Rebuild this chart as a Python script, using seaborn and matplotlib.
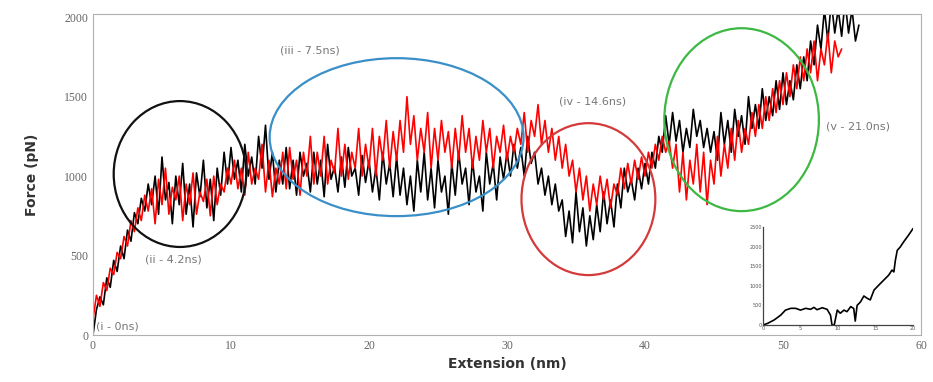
import numpy as np
import pandas as pd
import matplotlib
matplotlib.use("Agg")
import matplotlib.pyplot as plt
from matplotlib.patches import Ellipse
from matplotlib.ticker import MultipleLocator
import seaborn as sns

# ---------------- data ----------------
step = 0.25
black_force = [
    0, 160, 240, 190, 360, 300, 470, 400,
    560, 480, 660, 590, 770, 700, 860, 780,
    950, 820, 1000, 760, 1120, 850, 960, 700,
    1000, 820, 1080, 760, 950, 680, 1020, 870,
    1100, 800, 980, 720, 1050, 880, 1150, 950,
    1180, 980, 1100, 900, 1200, 1000, 1120, 950,
    1250, 1050, 1320, 980, 1150, 900, 1100, 950,
    1180, 920, 1100, 880, 1150, 1000, 1080, 900,
    1150, 950, 1100, 870, 1200, 980, 1060, 900,
    1120, 930, 1180, 1000, 1050, 880, 1130, 960,
    1100, 900, 1050, 850, 1150, 950, 1080, 870,
    1120, 880, 1050, 820, 1000, 780, 1100, 900,
    1150, 850, 1050, 800, 1100, 900, 1000, 760,
    1080, 880, 1150, 950, 1050, 820, 1100, 900,
    1000, 780, 1150, 950, 1080, 850, 1120, 980,
    1150, 1000, 1200, 1050, 1180, 1000, 1250, 1080,
    1150, 950, 1050, 880, 1000, 820, 950, 780,
    850, 620, 780, 580, 900, 650, 800, 560,
    750, 600, 820, 650, 900, 700, 850, 680,
    950, 800, 1050, 900, 980, 850, 1050, 920,
    1080, 950, 1150, 1050, 1250, 1150, 1380, 1200,
    1400, 1220, 1350, 1150, 1300, 1180, 1420, 1250,
    1350, 1180, 1300, 1150, 1280, 1100, 1400, 1200,
    1350, 1150, 1420, 1250, 1380, 1200, 1500, 1300,
    1450, 1300, 1550, 1350, 1500, 1380, 1600, 1420,
    1650, 1450, 1600, 1480, 1700, 1550, 1750, 1600,
    1850, 1700, 1950, 1800, 2050, 1850, 2100, 1900,
    2050, 1880, 2100, 1900, 2050, 1850, 1950,
]
red_force = [
    100, 250, 180, 330, 280, 420, 380, 520,
    480, 620, 560, 720, 650, 800, 720, 880,
    780, 920, 700, 980, 820, 1050, 760, 930,
    850, 1000, 720, 950, 820, 1020, 760, 900,
    840, 980, 750, 1000, 820, 950, 900, 1050,
    950, 1100, 920, 1050, 880, 1150, 950, 1050,
    980, 1200, 900, 1100, 870, 1050, 950, 1150,
    920, 1180, 980, 1100, 880, 1150, 1000, 1250,
    950, 1150, 1000, 1250, 950, 1100, 1020, 1300,
    1000, 1200, 980, 1150, 1050, 1300, 1000, 1200,
    1050, 1300, 1000, 1250, 1100, 1350, 1050, 1280,
    1100, 1350, 1150, 1500, 1200, 1380, 1100, 1300,
    1150, 1400, 1050, 1300, 1100, 1350, 1150, 1280,
    1050, 1300, 1100, 1380, 1150, 1300, 1050, 1250,
    1100, 1350, 1150, 1300, 1050, 1250, 1150, 1320,
    1100, 1250, 1150, 1300, 1200, 1400, 1150, 1350,
    1250, 1450, 1200, 1350, 1150, 1300, 1100, 1250,
    1050, 1200, 1000, 1100, 900, 1050, 850, 1000,
    780, 950, 820, 1000, 850, 980, 800, 950,
    880, 1050, 920, 1080, 950, 1100, 980, 1120,
    1000, 1150, 1050, 1200, 1100, 1250, 1150, 1220,
    1050, 1200, 900, 1150, 850, 1100, 950, 1200,
    900, 1150, 820, 1100, 950, 1250, 1000, 1200,
    1050, 1300, 1100, 1350, 1150, 1300, 1200, 1400,
    1250, 1450, 1300, 1500, 1350, 1550, 1400, 1600,
    1450, 1650, 1500, 1700, 1550, 1750, 1600, 1800,
    1650, 1850, 1600, 1800, 1700, 1900, 1650, 1850,
    1750, 1800,
]
black_ext = [i * step for i in range(len(black_force))]
red_ext = [i * step for i in range(len(red_force))]

inset_t = [0, 0.6, 1.5, 2.35, 3.0, 3.7, 4.35, 5.0, 5.7, 6.35, 6.8, 7.2, 7.9,
           8.55, 9.0, 9.2, 9.5, 9.9, 10.3, 10.8, 11.2, 11.7, 12.1, 12.3, 12.55,
           13.0, 13.45, 13.9, 14.3, 14.8, 15.45, 16.1, 16.75, 17.2, 17.45,
           17.65, 17.9, 18.3, 18.75, 19.4, 20.0]
inset_f = [0, 40, 130, 250, 380, 425, 425, 380, 425, 400, 450, 390, 440,
           400, 250, 0, 0, 380, 300, 380, 340, 470, 420, 100, 500,
           590, 740, 680, 640, 890, 1020, 1145, 1270, 1400, 1355,
           1650, 1905, 1990, 2120, 2290, 2460]

annotations = ["(i - 0ns)", "(ii - 4.2ns)", "(iii - 7.5ns)", "(iv - 14.6ns)", "(v - 21.0ns)"]

black_df = pd.DataFrame({"ext": black_ext, "force": black_force})
red_df = pd.DataFrame({"ext": red_ext, "force": red_force})
inset_df = pd.DataFrame({"t": inset_t, "f": inset_f})

# ---------------- plot ----------------
sns.set_style("white")
fig = plt.figure(figsize=(9.33, 3.82), dpi=100)
ax = fig.add_axes([93 / 933, 47 / 382, (921 - 93) / 933, (335 - 14) / 382])

sns.lineplot(data=black_df, x="ext", y="force", ax=ax, color="black",
             linewidth=1.2, sort=False, estimator=None)
sns.lineplot(data=red_df, x="ext", y="force", ax=ax, color="#ff0000",
             linewidth=1.2, sort=False, estimator=None)

ax.set_xlim(0, 60)
ax.set_ylim(0, 2020)
ax.xaxis.set_major_locator(MultipleLocator(10))
ax.xaxis.set_minor_locator(MultipleLocator(5))
ax.yaxis.set_major_locator(MultipleLocator(500))
ax.yaxis.set_minor_locator(MultipleLocator(250))
ax.tick_params(which="both", direction="in", color="#999999", top=False, right=False,
               labelsize=8.5, labelcolor="#666666", labelfontfamily="Liberation Serif")
ax.tick_params(which="major", length=5, width=0.8)
ax.tick_params(which="minor", length=3, width=0.6)
for s in ax.spines.values():
    s.set_color("#b0b0b0")
    s.set_linewidth(0.8)

ax.set_xlabel("Extension (nm)", fontsize=10, fontweight="bold", color="#333333",
              fontfamily="Liberation Sans Narrow", labelpad=4)
ax.set_ylabel("Force (pN)", fontsize=10, fontweight="bold", color="#333333", labelpad=18)

# ellipses
ell_specs = [((6.3, 1013), 9.6, 918, "#111111"),
             ((22.0, 1245), 18.4, 994, "#3a8fc8"),
             ((35.9, 855), 9.7, 956, "#d43a3a"),
             ((47.0, 1355), 11.2, 1151, "#3cb843")]
for c, w, h, col in ell_specs:
    ax.add_patch(Ellipse(c, w, h, fill=False, edgecolor=col, linewidth=1.6, zorder=5))

txt_pos = [(0.2, 55), (3.8, 478), (13.55, 1792), (33.8, 1472), (53.1, 1314)]
for (x, y), t in zip(txt_pos, annotations):
    ax.text(x, y, t, fontsize=8, color="#777777", ha="left", va="center", zorder=6)

# inset
iax = fig.add_axes([763 / 933, (382 - 325) / 382, (913 - 763) / 933, (325 - 227) / 382])
sns.lineplot(data=inset_df, x="t", y="f", ax=iax, color="black", linewidth=1.2,
             sort=False, estimator=None)
iax.set_xlim(0, 20)
iax.set_ylim(0, 2500)
iax.xaxis.set_major_locator(MultipleLocator(5))
iax.xaxis.set_minor_locator(MultipleLocator(2.5))
iax.yaxis.set_major_locator(MultipleLocator(500))
iax.tick_params(which="both", direction="in", labelsize=3.5, colors="#555555", length=2, pad=1)
iax.set_xlabel("")
iax.set_ylabel("")
iax.spines["top"].set_visible(False)
iax.spines["right"].set_visible(False)
for s in ("left", "bottom"):
    iax.spines[s].set_color("#444444")
    iax.spines[s].set_linewidth(0.9)
iax.patch.set_alpha(0)

fig.savefig("out.png", dpi=100)
